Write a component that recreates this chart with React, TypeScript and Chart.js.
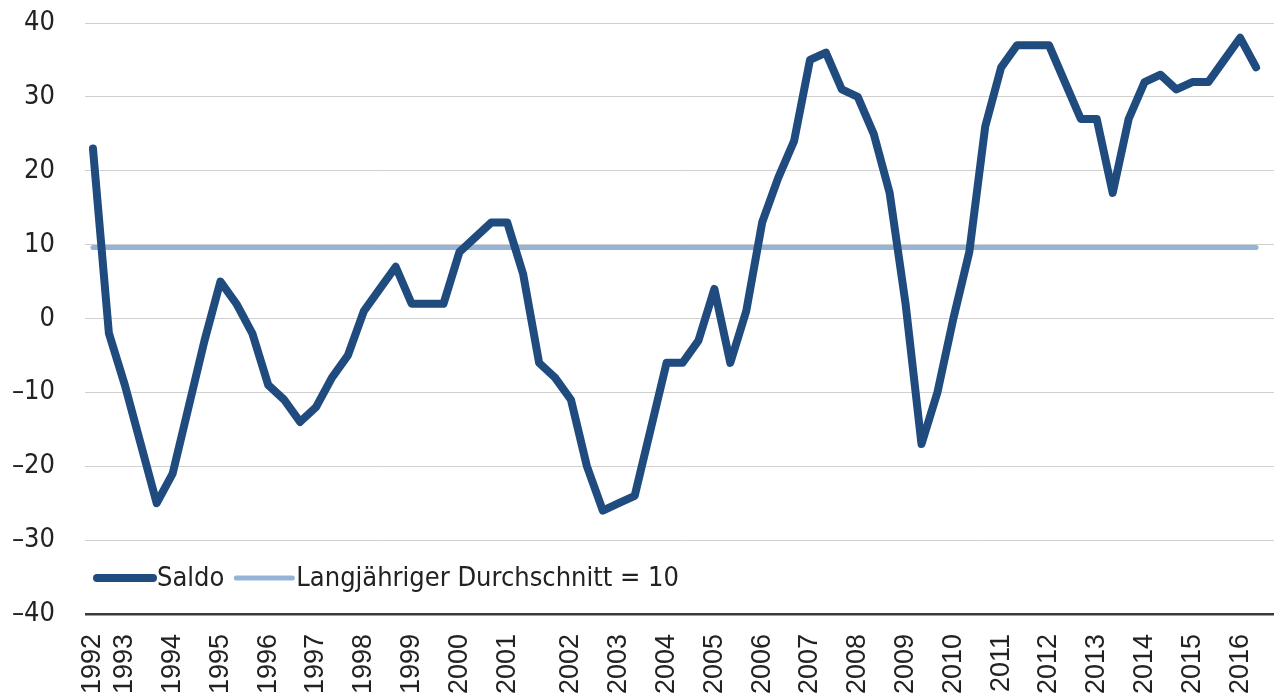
import React, { useEffect, useRef } from "react";
import { Chart, registerables } from "chart.js";

Chart.register(...registerables);

// Year tick labels and the category index where each one sits
const yearLabels = [
  "1992", "1993", "1994", "1995", "1996", "1997", "1998", "1999", "2000", "2001",
  "2002", "2003", "2004", "2005", "2006", "2007", "2008", "2009", "2010", "2011",
  "2012", "2013", "2014", "2015", "2016",
];
const yearIndex = [
  0, 2, 5, 8, 11, 14, 17, 20, 23, 26, 30, 33, 36, 39, 42, 45, 48, 51, 54, 57, 60, 63, 66, 69, 72,
];
const categoryCount = 75;

// Series: Saldo
const saldo = [
  23, -2, -9, -17, -25, -21, -12, -3, 5, 2,
  -2, -9, -11, -14, -12, -8, -5, 1, 4, 7,
  2, 2, 2, 9, 11, 13, 13, 6, -6, -8,
  -11, -20, -26, -25, -24, -15, -6, -6, -3, 4,
  -6, 1, 13, 19, 24, 35, 36, 31, 30, 25,
  17, 2, -17, -10, 0, 9, 26, 34, 37, 37,
  37, 32, 27, 27, 17, 27, 32, 33, 31, 32,
  32, 35, 38, 34,
];
// Long-term average (drawn level)
const averageValue = 9.6;

const yTicks = [-40, -30, -20, -10, 0, 10, 20, 30, 40];

const seriesLabels = ["Saldo", "Langjähriger Durchschnitt = 10"];
const seriesColors = ["#1f4b7e", "#95b3d7"];

const CANVAS_W = 1280;
const CANVAS_H = 720;
const COND = "'DejaVu Sans Condensed', 'DejaVu Sans', sans-serif";

export default function App() {
  const ref = useRef<HTMLCanvasElement>(null);

  useEffect(() => {
    const categories: string[] = Array.from({ length: categoryCount }, () => "");
    yearIndex.forEach((idx, i) => {
      categories[idx] = yearLabels[i];
    });
    const saldoData: (number | null)[] = categories.map((_, i) =>
      i < saldo.length ? saldo[i] : null
    );
    const avgData: (number | null)[] = categories.map((_, i) =>
      i < saldo.length ? averageValue : null
    );

    const legendPlugin = {
      id: "innerLegend",
      afterDraw(chart: any) {
        const ctx = chart.ctx;
        const y = 578;
        let x = 97;
        const widths = [8, 5];
        ctx.save();
        ctx.font = `27px ${COND}`;
        ctx.textBaseline = "middle";
        ctx.textAlign = "left";
        seriesLabels.forEach((label, i) => {
          ctx.beginPath();
          ctx.strokeStyle = seriesColors[i];
          ctx.lineWidth = widths[i];
          ctx.lineCap = "round";
          ctx.moveTo(x, y);
          ctx.lineTo(x + 56, y);
          ctx.stroke();
          x += 60;
          ctx.fillStyle = "#222222";
          ctx.fillText(label, x, y + 1);
          x += ctx.measureText(label).width + 12;
        });
        ctx.restore();
      },
    };

    const chart = new Chart(ref.current as HTMLCanvasElement, {
      type: "line",
      data: {
        labels: categories,
        datasets: [
          {
            label: seriesLabels[0],
            data: saldoData,
            borderColor: seriesColors[0],
            backgroundColor: seriesColors[0],
            borderWidth: 8,
            pointRadius: 0,
            borderCapStyle: "round",
            borderJoinStyle: "round",
            tension: 0,
            spanGaps: false,
          },
          {
            label: seriesLabels[1],
            data: avgData,
            borderColor: seriesColors[1],
            backgroundColor: seriesColors[1],
            borderWidth: 5,
            pointRadius: 0,
            borderCapStyle: "round",
            tension: 0,
          },
        ],
      },
      options: {
        responsive: false,
        animation: false,
        devicePixelRatio: 1,
        layout: { padding: { top: 23, right: 0, bottom: 0, left: 0 } },
        plugins: {
          legend: { display: false },
          tooltip: { enabled: false },
        },
        scales: {
          x: {
            type: "category",
            offset: true,
            grid: { display: false, drawTicks: false },
            border: { display: false },
            ticks: {
              autoSkip: false,
              maxRotation: 90,
              minRotation: 90,
              padding: 20,
              color: "#222222",
              font: { family: "'Liberation Sans', Arial, sans-serif", size: 27 },
            },
            afterFit: (s: any) => {
              s.height = CANVAS_H - 614;
              s.paddingLeft = 0;
              s.paddingRight = 0;
              s.paddingTop = 0;
              s.paddingBottom = 0;
            },
          },
          y: {
            min: -40,
            max: 40,
            afterBuildTicks: (s: any) => {
              s.ticks = yTicks.map((v) => ({ value: v }));
            },
            grid: {
              drawTicks: false,
              color: (c: any) => (c.tick && c.tick.value === -40 ? "#3a3a3a" : "#d0d0d0"),
              lineWidth: (c: any) => (c.tick && c.tick.value === -40 ? 2.5 : 1),
            },
            border: { display: false },
            ticks: {
              padding: 30,
              color: "#222222",
              font: { family: COND, size: 27 },
              callback: (v: any) => (Number(v) < 0 ? "–" + Math.abs(Number(v)) : String(v)),
            },
            afterFit: (s: any) => {
              s.width = 85;
              s.paddingTop = 0;
              s.paddingBottom = 0;
              s.paddingLeft = 0;
              s.paddingRight = 0;
            },
          },
        },
      },
      plugins: [legendPlugin],
    } as any);

    return () => chart.destroy();
  }, []);

  return (
    <div
      style={{
        position: "absolute",
        left: 0,
        top: 0,
        width: 1274,
        height: 697,
        overflow: "hidden",
        background: "#ffffff",
      }}
    >
      <canvas
        ref={ref}
        width={CANVAS_W}
        height={CANVAS_H}
        style={{ display: "block", width: CANVAS_W, height: CANVAS_H }}
      />
    </div>
  );
}
